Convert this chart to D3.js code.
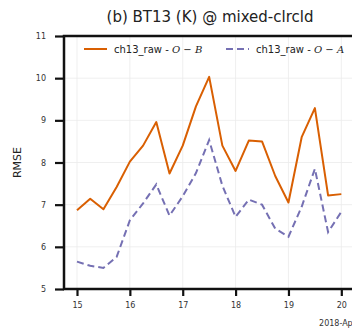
<!DOCTYPE html>
<html>
<head>
<meta charset="utf-8">
<script src="https://cdn.jsdelivr.net/npm/d3@7"></script>
<style>
  html, body { margin: 0; padding: 0; background: #fff; }
  svg { display: block; }
  text { font-family: "DejaVu Sans", sans-serif; }
</style>
</head>
<body>
<div id="chart"></div>
<script>
// 6-hourly analysis times, 15–20 April 2018
const times = [
  "2018-04-15T00:00Z", "2018-04-15T06:00Z", "2018-04-15T12:00Z", "2018-04-15T18:00Z",
  "2018-04-16T00:00Z", "2018-04-16T06:00Z", "2018-04-16T12:00Z", "2018-04-16T18:00Z",
  "2018-04-17T00:00Z", "2018-04-17T06:00Z", "2018-04-17T12:00Z", "2018-04-17T18:00Z",
  "2018-04-18T00:00Z", "2018-04-18T06:00Z", "2018-04-18T12:00Z", "2018-04-18T18:00Z",
  "2018-04-19T00:00Z", "2018-04-19T06:00Z", "2018-04-19T12:00Z", "2018-04-19T18:00Z",
  "2018-04-20T00:00Z"
];

// RMSE of observation minus background
const rmseOmB = [6.87, 7.14, 6.89, 7.42, 8.02, 8.40, 8.96, 7.74, 8.40, 9.33, 10.03,
                 8.40, 7.80, 8.52, 8.50, 7.68, 7.05, 8.60, 9.29, 7.22, 7.25];
// RMSE of observation minus analysis
const rmseOmA = [5.65, 5.55, 5.50, 5.76, 6.63, 7.03, 7.48, 6.74, 7.20, 7.75, 8.53,
                 7.45, 6.71, 7.12, 7.00, 6.43, 6.24, 6.95, 7.85, 6.35, 6.83];

const yTicks = [5, 6, 7, 8, 9, 10, 11];
const xTickDays = [15, 16, 17, 18, 19, 20];

const W = 352, H = 329;
const margin = { left: 64, right: -4, top: 36, bottom: 40 };
const plotW = W - margin.left - margin.right;
const plotH = H - margin.top - margin.bottom;

const parse = d3.utcParse("%Y-%m-%dT%H:%M%Z");
const dates = times.map(parse);

const svg = d3.select("#chart").append("svg")
  .attr("width", W).attr("height", H);

const x = d3.scaleUtc()
  .domain([new Date(Date.UTC(2018, 3, 14, 18, 6)), new Date(Date.UTC(2018, 3, 20, 6, 40))])
  .range([margin.left, margin.left + plotW]);
const y = d3.scaleLinear().domain([5, 11]).range([margin.top + plotH, margin.top]);

const xTicks = xTickDays.map(d => new Date(Date.UTC(2018, 3, d)));

// light grid
const grid = svg.append("g");
grid.selectAll("line.gx").data(xTicks).join("line")
  .attr("x1", d => x(d)).attr("x2", d => x(d))
  .attr("y1", y(5)).attr("y2", y(11))
  .attr("stroke", "#ebebeb").attr("stroke-width", 0.8);
grid.selectAll("line.gy").data(yTicks).join("line")
  .attr("x1", x.range()[0]).attr("x2", x.range()[1])
  .attr("y1", d => y(d)).attr("y2", d => y(d))
  .attr("stroke", "#ebebeb").attr("stroke-width", 0.8);

// series
const line = vals => d3.line()
  .x((d, i) => x(dates[i]))
  .y(d => y(d))(vals);

svg.append("path").attr("d", line(rmseOmB))
  .attr("fill", "none").attr("stroke", "#d95f02")
  .attr("stroke-width", 2).attr("stroke-linejoin", "round");
svg.append("path").attr("d", line(rmseOmA))
  .attr("fill", "none").attr("stroke", "#7570b3")
  .attr("stroke-width", 2).attr("stroke-dasharray", "7,4");

// axes
const xAxis = d3.axisBottom(x).tickValues(xTicks)
  .tickFormat(d3.utcFormat("%-d")).tickSize(7).tickPadding(6);
const yAxis = d3.axisLeft(y).tickValues(yTicks)
  .tickFormat(d3.format("d")).tickSize(9).tickPadding(9);

const gx = svg.append("g").attr("transform", `translate(0,${y(5)})`).call(xAxis);
const gy = svg.append("g").attr("transform", `translate(${x.range()[0]},0)`).call(yAxis);
[gx, gy].forEach(g => {
  g.select(".domain").remove();
  g.selectAll(".tick line").attr("stroke", "#111").attr("stroke-width", 2.2);
  g.selectAll(".tick text").attr("fill", "#333").style("font-size", "8px")
    .style("font-family", "DejaVu Sans");
});

// frame
svg.append("rect")
  .attr("x", x.range()[0]).attr("y", y(11))
  .attr("width", x.range()[1] - x.range()[0]).attr("height", y(5) - y(11))
  .attr("fill", "none").attr("stroke", "#111").attr("stroke-width", 2.5);

// title
svg.append("text").attr("x", 210).attr("y", 22)
  .attr("text-anchor", "middle").style("font-size", "15px").attr("fill", "#222")
  .text("(b) BT13 (K) @ mixed-clrcld");

// y label
svg.append("text")
  .attr("transform", `translate(21,${(y(5) + y(11)) / 2}) rotate(-90)`)
  .attr("text-anchor", "middle").style("font-size", "11px").attr("fill", "#222")
  .text("RMSE");

// date offset label
svg.append("text").attr("x", 356).attr("y", 326)
  .attr("text-anchor", "end").style("font-size", "8px").attr("fill", "#333")
  .text("2018-Apr");

// legend
const legend = [
  { name: "ch13_raw - ", a: "O", b: "B", color: "#d95f02", dash: null, x0: 84 },
  { name: "ch13_raw - ", a: "O", b: "A", color: "#7570b3", dash: "7,4", x0: 226 }
];
const lg = svg.append("g");
legend.forEach(l => {
  lg.append("line").attr("x1", l.x0).attr("x2", l.x0 + 23)
    .attr("y1", 49).attr("y2", 49)
    .attr("stroke", l.color).attr("stroke-width", 2)
    .attr("stroke-dasharray", l.dash);
  const t = lg.append("text").attr("x", l.x0 + 30).attr("y", 52.5)
    .style("font-size", "10px").attr("fill", "#222");
  t.append("tspan").text(l.name);
  t.append("tspan").style("font-family", "DejaVu Serif").style("font-style", "italic").text(l.a);
  t.append("tspan").text(" \u2212 ");
  t.append("tspan").style("font-family", "DejaVu Serif").style("font-style", "italic").text(l.b);
});
</script>
</body>
</html>
